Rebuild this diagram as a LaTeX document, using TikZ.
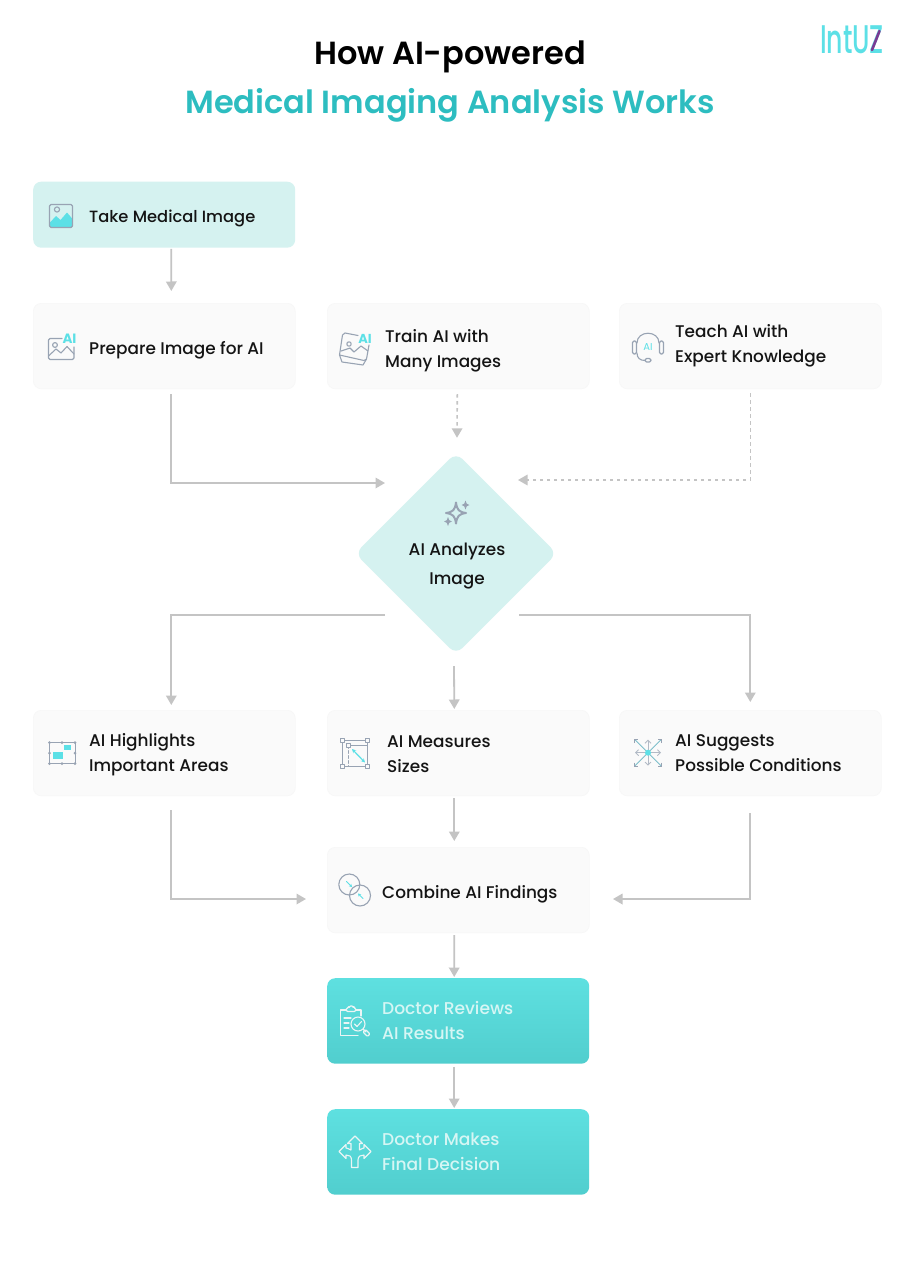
\documentclass[tikz,border=0pt]{standalone}
\usepackage{fontspec}
\setmainfont{Poppins}
\newfontfamily\titlefont{Poppins SemiBold}
\newfontfamily\bodyfont{Poppins Medium}
\newfontfamily\logofont{Poppins Medium}
\usetikzlibrary{arrows.meta,shapes.geometric,calc}
\definecolor{softbox}{HTML}{FAFAFA}
\definecolor{softedge}{HTML}{F7F7F7}
\definecolor{mint}{HTML}{D5F2F0}
\definecolor{tealhead}{HTML}{2DBDC0}
\definecolor{conn}{HTML}{C4C4C4}
\definecolor{iconline}{HTML}{98A3B3}
\definecolor{iconcyan}{HTML}{5CE0E6}
\definecolor{bodyink}{HTML}{141414}
\definecolor{lighttext}{HTML}{D6F6F4}
\definecolor{logopurple}{HTML}{7A3B93}
\definecolor{TealTop}{HTML}{5EE0E0}
\definecolor{TealBot}{HTML}{51CECE}
\tikzset{
  card/.style={rectangle,rounded corners=8pt,minimum width=262pt,minimum height=85.5pt,inner sep=0pt,anchor=north west},
  softcard/.style={card,fill=softbox,draw=softedge,line width=.6pt},
  mintcard/.style={card,fill=mint,minimum height=66pt},
  tealcard/.style={card,top color=TealTop,bottom color=TealBot,draw=none},
  lab/.style={anchor=west,inner sep=0pt,yshift=-1.8pt,align=left,text=bodyink,font=\bodyfont\fontsize{16.9}{25}\selectfont},
  wlab/.style={lab,text=lighttext,font=\bodyfont\fontsize{17.1}{25}\selectfont},
  flow/.style={draw=conn,line width=1.8pt,-{Triangle[width=10.5pt,length=9.5pt,fill=conn]}},
  dflow/.style={flow,line width=1.6pt,dash pattern=on 3.5pt off 3.5pt},
  ico/.style={draw=iconline,line width=1.1pt,line cap=round,line join=round},
  wico/.style={draw=white!92!teal,line width=1.1pt,line cap=round,line join=round},
  cy/.style={draw=iconcyan,line width=1.2pt,line cap=round},
  aitag/.style={inner sep=0pt,text=iconcyan,font=\fontsize{13}{13}\selectfont},
}
\begin{document}
\begin{tikzpicture}[x=1pt,y=-1pt]
\useasboundingbox (0,0) rectangle (900,1284);
\fill[white] (0,0) rectangle (900,1284);

% titles
\node[inner sep=0pt,text=black,font=\titlefont\fontsize{32}{32}\selectfont] (t1) at (450,57) {How AI-powered};
\node[inner sep=0pt,text=tealhead,font=\titlefont\fontsize{32}{32}\selectfont] (t2) at (450,105) {Medical Imaging Analysis Works};

% logo
\node[inner sep=0pt,text=iconcyan,font=\logofont\fontsize{40}{40}\selectfont,xscale=.63] (logo) at (852,40) {IntUZ};
\draw[logopurple,line width=2.6pt,line cap=round] (879.5,31) -- (872,50);

% cards
\node[mintcard] (take) at (33,181.5) {};
\node[softcard] (prep) at (33,303) {};
\node[softcard] (train) at (327,303) {};
\node[softcard] (teach) at (619,303) {};
\node[diamond,aspect=1,fill=mint,rounded corners=9pt,minimum width=202pt,minimum height=202pt,inner sep=0pt] (ana) at (456,553.5) {};
\node[softcard] (high) at (33,710) {};
\node[softcard] (meas) at (327,710) {};
\node[softcard] (sugg) at (619,710) {};
\node[softcard] (comb) at (327,847) {};
\node[tealcard] (rev) at (327,978) {};
\node[tealcard] (dec) at (327,1109) {};

% labels
\node[lab,font=\bodyfont\fontsize{16.3}{25}\selectfont] (ltake) at (89,217) {Take Medical Image};
\node[lab] (lprep) at (89,348) {Prepare Image for AI};
\node[lab] (ltrain) at (385,348.5) {Train AI with\\Many Images};
\node[lab] (lteach) at (675,343.5) {Teach AI with\\Expert Knowledge};
\node[lab,anchor=center,align=center] (lana) at (457,564) {AI Analyzes\\[4pt]Image};
\node[lab] (lhigh) at (89,752.5) {AI Highlights\\Important Areas};
\node[lab] (lmeas) at (387,752) {AI Measures\\Sizes};
\node[lab] (lsugg) at (675,751) {AI Suggests\\Possible Conditions};
\node[lab] (lcomb) at (382,892) {Combine AI Findings};
\node[wlab] (lrev) at (382,1018.5) {Doctor Reviews\\AI Results};
\node[wlab] (ldec) at (382,1150) {Doctor Makes\\Final Decision};

% connector free ends
\coordinate (anaUL) at (385,483);
\coordinate (anaUR) at (518,480);
\coordinate (anaLL) at (385,615);
\coordinate (anaLR) at (519,615);
\coordinate (combL) at (306,899);
\coordinate (combR) at (613,899);

\draw[flow] ([xshift=7pt,yshift=-1pt]take.south) -- ([xshift=7pt,yshift=12pt]prep.north);
\draw[flow] ([xshift=7pt,yshift=-5pt]prep.south) |- (anaUL);
\draw[dflow] ([xshift=-1pt,yshift=-5pt]train.south) -- ([xshift=1pt,yshift=14.5pt]ana.north);
\draw[dflow] ([yshift=-4pt]teach.south) |- (anaUR);
\draw[flow] (anaLL) -| ([xshift=7pt,yshift=5pt]high.north);
\draw[flow] ([xshift=-2pt,yshift=-11.5pt]ana.south) -- ([xshift=-4pt,yshift=1pt]meas.north);
\draw[flow] (anaLR) -| ([yshift=8pt]sugg.north);
\draw[flow] ([xshift=7pt,yshift=-14pt]high.south) |- (combL);
\draw[flow] ([xshift=-4pt,yshift=-2pt]meas.south) -- ([xshift=-4pt,yshift=6pt]comb.north);
\draw[flow] ([yshift=-17pt]sugg.south) |- (combR);
\draw[flow] ([xshift=-4pt,yshift=-2pt]comb.south) -- ([xshift=-4pt,yshift=1pt]rev.north);
\draw[flow] ([xshift=-4pt,yshift=-3pt]rev.south) -- ([xshift=-4pt,yshift=1pt]dec.north);

% icon: image
\fill[iconcyan] (49.5,223) -- (56,216) -- (60.5,220) -- (67,212.5) -- (72.5,219) -- (72.5,226) -- (71,227.5) -- (51,227.5) -- (49.5,226) -- cycle;
\draw[ico,rounded corners=1.5pt] (49.5,204.5) rectangle (72.5,227.5);
\draw[ico] (57,209.5) circle (2.6);

% icon: prepare
\draw[ico] (62,338.5) -- (50,338.5) -- (48.5,340) -- (48.5,358) -- (50,359.5) -- (72.5,359.5) -- (74,358) -- (74,347);
\draw[ico] (55,345) circle (2.4);
\draw[ico] (48.5,356) -- (56,349) -- (61,353) -- (67,346.5) -- (74,354);
\node[aitag,font=\bfseries\fontsize{13.5}{13.5}\selectfont] (aiprep) at (69.5,339) {AI};

% icon: train
\draw[ico] (358,335.5) -- (345,333) -- (342.5,335) -- (339.5,355) -- (364,360.5) -- (366.5,359) -- (369,345);
\draw[ico] (339.5,355) -- (342,362) -- (363,365) -- (366.5,359);
\draw[ico] (349,344) circle (2.2);
\draw[ico] (341,351) -- (350,348) -- (354,352) -- (361,346) -- (368,351);
\node[aitag,font=\bfseries\fontsize{13}{13}\selectfont] (aitrain) at (365,338.5) {AI};

% icon: headset
\draw[ico] (637,343) .. controls (637,330) and (659,330) .. (659,343);
\draw[ico,rounded corners=1.5pt] (632.5,341) rectangle (636.5,354);
\draw[ico,rounded corners=1.5pt] (659.5,341) rectangle (663.5,354);
\draw[ico] (637,353) .. controls (637,358) and (640,360.5) .. (645,360.5);
\draw[ico,rounded corners=1.5pt] (645,358.5) rectangle (651,362);
\node[aitag,font=\fontsize{10}{10}\selectfont] (aiteach) at (648,347) {AI};

% icon: sparkle
\draw[iconline,line width=2pt,line join=round] (456,502.5) .. controls (457,510) and (459,512) .. (466,513) .. controls (459,514) and (457,516) .. (456,523.5) .. controls (455,516) and (453,514) .. (446,513) .. controls (453,512) and (455,510) .. (456,502.5) -- cycle;
\fill[iconline] (465.5,500.5) .. controls (466,503.5) and (467,504.5) .. (469.5,505) .. controls (467,505.5) and (466,506.5) .. (465.5,509.5) .. controls (465,506.5) and (464,505.5) .. (461.5,505) .. controls (464,504.5) and (465,503.5) .. (465.5,500.5) -- cycle;
\fill[iconline] (448,517) .. controls (448.5,520) and (449.5,521) .. (452,521.5) .. controls (449.5,522) and (448.5,523) .. (448,526) .. controls (447.5,523) and (446.5,522) .. (444,521.5) .. controls (446.5,521) and (447.5,520) .. (448,517) -- cycle;

% icon: highlights
\draw[iconline,line width=.8pt] (49.5,742.5) rectangle (75,763.5);
\foreach \px/\py in {49.5/742.5,62/742.5,75/742.5,49.5/753,75/753,49.5/763.5,62/763.5,75/763.5}
  \fill[iconline] (\px,\py) circle (1.5);
\fill[iconcyan] (53,752) rectangle (63,759);
\fill[iconcyan] (64,745) rectangle (71,750);

% icon: measures
\draw[ico,line width=.9pt] (342,740) rectangle (367.5,766);
\draw[ico,line width=.9pt] (348,745.5) -- (367.5,745.5);
\draw[ico,line width=.9pt,dash pattern=on 3pt off 2pt] (348,745.5) -- (348,766);
\foreach \px/\py in {342/740,367.5/740,342/766,367.5/766,348/745.5}
  \draw[ico,line width=.9pt,fill=softbox] (\px-2,\py-2) rectangle (\px+2,\py+2);
\draw[cy,{Stealth[length=4pt,width=4pt]}-{Stealth[length=4pt,width=4pt]}] (352,749) -- (365,762.5);

% icon: suggest
\foreach \dx/\dy in {13/0,-13/0,0/13,0/-13}
  \draw[iconline!75,line width=.9pt,-{Straight Barb[length=3pt,width=6pt]}] (648,752.7) -- ++(\dx,\dy);
\foreach \dx/\dy in {13/13,-13/13,13/-13,-13/-13}
  \draw[iconcyan!45!iconline,line width=.9pt] (648,752.7) -- ++(\dx,\dy);
\draw[iconline,line width=.9pt] (634.5,743) -- (634.5,739.5) -- (638,739.5);
\draw[iconline,line width=.9pt] (661.5,743) -- (661.5,739.5) -- (658,739.5);
\draw[iconline,line width=.9pt] (634.5,762.5) -- (634.5,766) -- (638,766);
\draw[iconline,line width=.9pt] (661.5,762.5) -- (661.5,766) -- (658,766);
\fill[iconcyan] (648,752.7) circle (3);

% icon: combine
\draw[ico] (349.3,884.5) circle (10.5);
\draw[ico] (360,895.5) circle (10.5);
\draw[cy,line width=.9pt,-{Stealth[length=3pt,width=3.5pt]}] (346.5,881.5) -- (352,887);
\draw[cy,line width=.9pt,-{Stealth[length=3pt,width=3.5pt]}] (363,898.5) -- (358,893.5);

% icon: clipboard
\draw[wico] (346,1010) -- (340.5,1010) -- (340.5,1035.5) -- (358,1035.5);
\draw[wico] (356,1010) -- (361,1010) -- (361,1016);
\draw[wico,rounded corners=1.5pt] (346,1011.5) -- (346,1008) -- (349,1008) -- (349,1006) -- (353.5,1006) -- (353.5,1008) -- (356,1008) -- (356,1011.5) -- cycle;
\draw[wico] (344,1018) -- (351,1018);
\draw[wico] (344,1023) -- (349,1023);
\draw[wico] (344,1028) -- (349,1028);
\draw[wico] (358,1024) circle (7);
\draw[wico] (354.5,1024) -- (357,1026.5) -- (361.5,1021.5);
\draw[wico] (363,1029) -- (366,1032);
\draw[wico,rounded corners=1pt] (365.5,1029.5) -- (370,1034) -- (367.5,1036.5) -- (363,1032) -- cycle;

% icon: decision arrows
\draw[wico] (351.5,1167.5) -- (358,1167.5) -- (358,1160) .. controls (358,1156) and (361,1155) .. (364,1155) -- (364,1158.5) -- (371,1151.5) -- (364,1144.5) -- (364,1148) .. controls (363,1148) and (361,1149) .. (359.5,1150) -- (359.5,1143.5) -- (362.5,1143.5) -- (355,1136) -- (347.5,1143.5) -- (351,1143.5) -- (351,1150) .. controls (349,1149) and (347,1148) .. (346,1148) -- (346,1144.5) -- (339,1151.5) -- (346,1158.5) -- (346,1155) .. controls (349,1155) and (351.5,1156) .. (351.5,1160) -- cycle;
\end{tikzpicture}
\end{document}
